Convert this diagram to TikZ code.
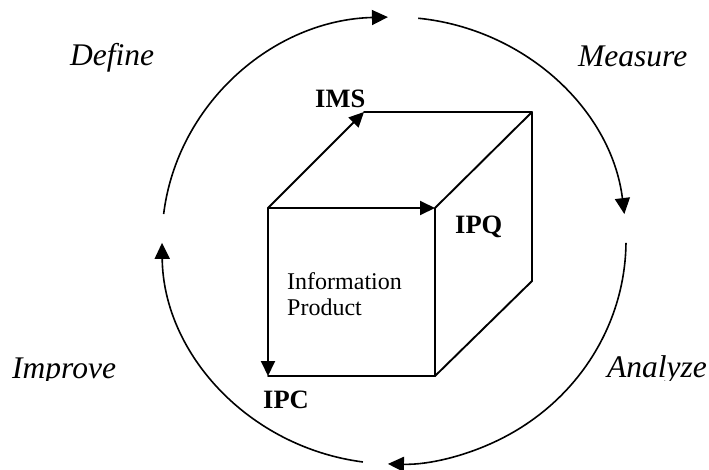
\documentclass[tikz,border=0pt]{standalone}
\usepackage{fontspec}
\setmainfont{Liberation Serif}
\usetikzlibrary{arrows.meta}
\begin{document}
\begin{tikzpicture}[x=1pt,y=-1pt,
  cubeline/.style={line width=1.9pt,line cap=round,line join=round},
  cubearrow/.style={cubeline,-{Triangle[length=15pt,width=14pt]}},
  cyclearc/.style={line width=1.6pt,-{Triangle[length=16pt,width=15pt]}},
  phase/.style={inner sep=0pt,anchor=base west,font=\fontsize{31.5}{36}\selectfont\itshape},
  axis/.style={inner sep=0pt,anchor=base west,font=\fontsize{26.5}{30}\selectfont\bfseries},
  prodtext/.style={inner sep=0pt,anchor=base west,font=\fontsize{24}{26}\selectfont}]
\useasboundingbox[fill=white] (0,0) rectangle (709,469);

% cycle
\coordinate (c) at (394,240.5);
\coordinate (a1) at ([shift={(-173.2:232 and 223.5)}]c);
\coordinate (a2) at ([shift={(-84:232 and 223.5)}]c);
\coordinate (a3) at ([shift={(0.6:232 and 223.5)}]c);
\coordinate (a4) at ([shift={(97.7:232 and 223.5)}]c);
\draw[cyclearc] (a1) arc[start angle=-173.2,end angle=-91.5,x radius=232,y radius=223.5];
\draw[cyclearc] (a2) arc[start angle=-84,end angle=-6.8,x radius=232,y radius=223.5];
\draw[cyclearc] (a3) arc[start angle=0.6,end angle=91.5,x radius=232,y radius=223.5];
\draw[cyclearc] (a4) arc[start angle=97.7,end angle=179.4,x radius=232,y radius=223.5];

% cube
\coordinate (A) at (268,208);
\coordinate (B) at (435,208);
\coordinate (C) at (435,376);
\coordinate (D) at (268,376);
\coordinate (E) at (364,112);
\coordinate (F) at (532,112);
\coordinate (G) at (532,281);
\draw[cubeline] (E) -- (F) -- (G) -- (C) -- (D);
\draw[cubeline] (B) -- (C);
\draw[cubeline] (B) -- (F);
\draw[cubearrow] (A) -- (E);
\draw[cubearrow] (A) -- (B);
\draw[cubearrow] (A) -- (D);

% labels
\node[phase] (define) at (70,65) {Define};
\node[phase] (measure) at (578,66) {Measure};
\begin{scope}
\clip (0,0) rectangle (709,380);
\node[phase] (improve) at (12,378) {Improve};
\node[phase] (analyze) at (607,377) {Analyze};
\end{scope}
\node[axis] (ims) at (315,107) {IMS};
\node[axis] (ipq) at (455,233) {IPQ};
\node[axis] (ipc) at (263,408) {IPC};
\node[prodtext] (info) at (287,289) {Information};
\node[prodtext] (prod) at (287,315) {Product};
\end{tikzpicture}
\end{document}
